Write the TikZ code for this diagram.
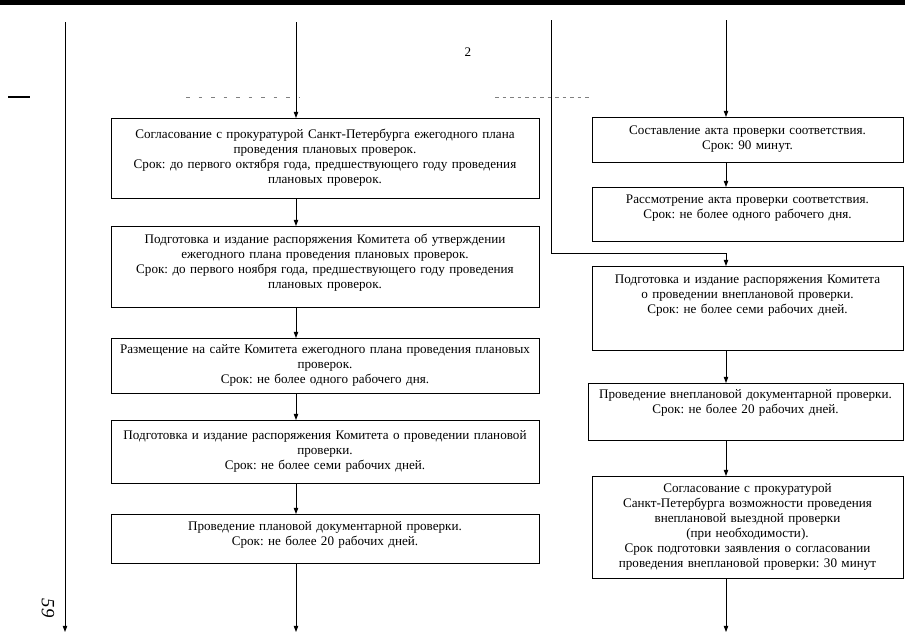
\documentclass[tikz,border=0pt]{standalone}
\usepackage{fontspec}
\setmainfont{Liberation Serif}
\frenchspacing
\usetikzlibrary{positioning,arrows.meta}

\begin{document}
\begin{tikzpicture}[
  x=0.8pt, y=-0.8pt,
  font=\fontsize{10.5}{12}\selectfont,
  stepbox/.style={draw, line width=0.8pt, align=center, inner sep=2pt, outer sep=0pt},
  leftbox/.style={stepbox, text width=336pt, minimum width=342.4pt},
  rightbox/.style={stepbox, text width=244pt, minimum width=248.8pt},
  arrow/.style={-{Triangle[length=5pt,width=3.6pt]}, line width=0.6pt}
]
\useasboundingbox (0,0) rectangle (905,640);

% scan edges
\fill (0,0) rectangle (905,5);
\draw[line width=1.2pt] (8,97) -- (30,97);
\draw[gray, dash pattern=on 3pt off 7pt] (186,97) -- (300,97);
\draw[gray, dash pattern=on 3pt off 3pt] (495,97) -- (592,97);

\node (pnum) at (468,52) {2};
\node[rotate=-90, font=\itshape\fontsize{15}{15}\selectfont] (sheet) at (48,608) {59};

% left column
\node[leftbox, minimum height=64pt, anchor=north] (b1) at (325,118) {Согласование с прокуратурой Санкт-Петербурга ежегодного плана\\ проведения плановых проверок.\\ Срок: до первого октября года, предшествующего году проведения\\ плановых проверок.};
\node[leftbox, minimum height=64.8pt, below=22.4pt of b1] (b2) {Подготовка и издание распоряжения Комитета об утверждении\\ ежегодного плана проведения плановых проверок.\\ Срок: до первого ноября года, предшествующего году проведения\\ плановых проверок.\\[-3pt]\mbox{}};
\node[leftbox, minimum height=44pt, below=24.8pt of b2] (b3) {Размещение на сайте Комитета ежегодного плана проведения плановых\\ проверок.\\ Срок: не более одного рабочего дня.};
\node[leftbox, minimum height=50.4pt, below=21.6pt of b3] (b4) {Подготовка и издание распоряжения Комитета о проведении плановой\\ проверки.\\ Срок: не более семи рабочих дней.};
\node[leftbox, minimum height=39.2pt, below=24.8pt of b4] (b5) {Проведение плановой документарной проверки.\\ Срок: не более 20 рабочих дней.\\[-4pt]\mbox{}};

% right column
\node[rightbox, minimum height=36pt, anchor=north] (r1) at (747.5,117) {Составление акта проверки соответствия.\\ Срок: 90 минут.};
\node[rightbox, minimum height=43.2pt, below=20pt of r1] (r2) {Рассмотрение акта проверки соответствия.\\ Срок: не более одного рабочего дня.\\[-1pt]\mbox{}};
\node[rightbox, minimum height=67.2pt, below=20pt of r2] (r3) {Подготовка и издание распоряжения Комитета\\ о проведении внеплановой проверки.\\ Срок: не более семи рабочих дней.\\[10pt]\mbox{}};
\node[rightbox, minimum height=45.6pt, minimum width=252pt, below=26.4pt of r3, xshift=-1.6pt] (r4) {Проведение внеплановой документарной проверки.\\ Срок: не более 20 рабочих дней.\\[4.5pt]\mbox{}};
\node[rightbox, minimum height=81.6pt, below=28.8pt of r4, xshift=1.6pt] (r5) {Согласование с прокуратурой\\ Санкт-Петербурга возможности проведения\\ внеплановой выездной проверки\\ (при необходимости).\\ Срок подготовки заявления о согласовании\\ проведения внеплановой проверки: 30 минут};

% free ends
\coordinate (etop) at (65,22);
\coordinate (ebot) at (65,632);
\coordinate (ltop) at (296,22);
\coordinate (lbot) at (296,632);
\coordinate (stop) at (551,20);
\coordinate (sturn) at (551,253);
\coordinate (rtop) at (726,20);
\coordinate (rbot) at (726,632);

\draw[arrow] (etop) -- (ebot);

\draw[arrow] (ltop) -- (b1.north -| ltop);
\draw[arrow] (b1.south -| ltop) -- (b2.north -| ltop);
\draw[arrow] (b2.south -| ltop) -- (b3.north -| ltop);
\draw[arrow] (b3.south -| ltop) -- (b4.north -| ltop);
\draw[arrow] (b4.south -| ltop) -- (b5.north -| ltop);
\draw[arrow] (b5.south -| ltop) -- (lbot);

\draw[arrow] (rtop) -- (r1.north -| rtop);
\draw[arrow] (r1.south -| rtop) -- (r2.north -| rtop);
\draw[arrow] (stop) -- (sturn) -- (sturn -| rtop) -- (r3.north -| rtop);
\draw[arrow] (r3.south -| rtop) -- (r4.north -| rtop);
\draw[arrow] (r4.south -| rtop) -- (r5.north -| rtop);
\draw[arrow] (r5.south -| rtop) -- (rbot);
\end{tikzpicture}
\end{document}
